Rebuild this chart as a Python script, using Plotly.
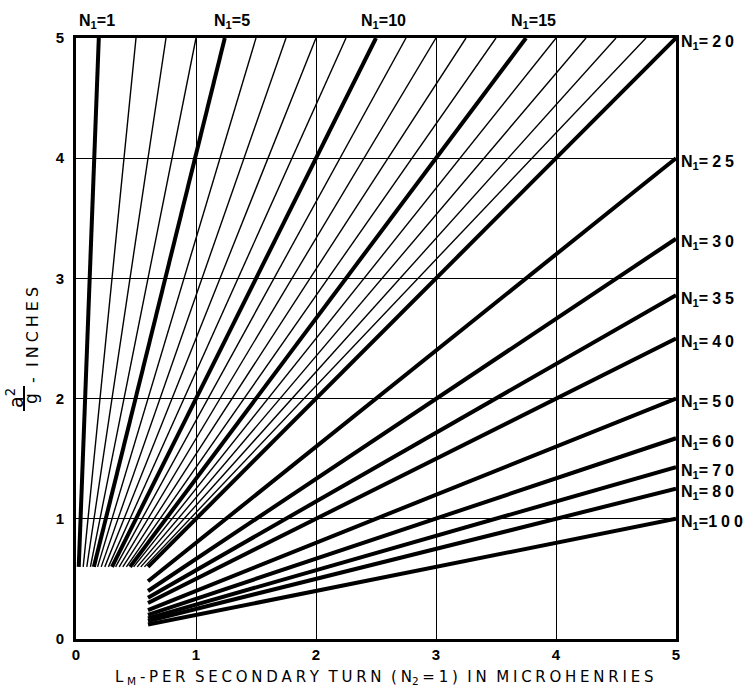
import plotly.graph_objects as go

# ---- data ----
# steep family: N1 = 1..20, x where each line meets the top edge (y = 5)
steep_n1 = list(range(1, 21))
steep_top_x = [0.19, 0.50, 0.75, 1.00, 1.24, 1.50, 1.75, 2.00, 2.25, 2.50,
               2.75, 3.00, 3.25, 3.50, 3.75, 4.00, 4.25, 4.50, 4.75, 5.00]
# shallow family: y where each line meets the right edge (x = 5)
shallow_n1 = [25, 30, 35, 40, 50, 60, 70, 80, 100]
shallow_right_y = [4.00, 3.33, 2.86, 2.50, 2.00, 1.67, 1.43, 1.25, 1.00]

top_labels = [1, 5, 10, 15]
right_labels = ["2\u20050", "2\u20055", "3\u20050", "3\u20055", "4\u20050",
                "5\u20050", "6\u20050", "7\u20050", "8\u20050", "1\u20050\u20050"]
tick_vals = [0, 1, 2, 3, 4, 5]
tick_text = ["0", "1", "2", "3", "4", "5"]

CUT = 0.6  # blank corner box where the lines stop

W, H = 743, 696
L, R, T, B = 76, 67, 38, 57
PW, PH = W - L - R, H - T - B


def px(xp, yp):
    return (xp - L) / PW, (H - B - yp) / PH


fig = go.Figure()

thick_set = {1, 5, 10, 15, 20}
for n, xt in zip(steep_n1, steep_top_x):
    x0 = CUT * xt / 5.0
    fig.add_trace(go.Scatter(
        x=[x0, xt], y=[CUT, 5], mode="lines",
        line=dict(color="black", width=4 if n in thick_set else 1.4),
        hoverinfo="skip", showlegend=False))

for n, yr in zip(shallow_n1, shallow_right_y):
    y0 = CUT * yr / 5.0
    fig.add_trace(go.Scatter(
        x=[CUT, 5], y=[y0, yr], mode="lines",
        line=dict(color="black", width=4),
        hoverinfo="skip", showlegend=False))

lab_font = dict(family="Liberation Sans", size=16, color="black", weight="bold")
ann = []
for n in top_labels:
    xt = steep_top_x[steep_n1.index(n)]
    ann.append(dict(x=xt, y=5, xref="x", yref="y", text=f"N<sub>1</sub>={n}",
                    showarrow=False, xanchor="center", yanchor="bottom",
                    xshift=7 if n > 1 else -2, yshift=5, font=lab_font))

right_y = [5.0] + shallow_right_y
for i, (txt, yv) in enumerate(zip(right_labels, right_y)):
    sep = "=" if i == len(right_labels) - 1 else "=\u2005"
    ann.append(dict(x=5, y=yv, xref="x", yref="y", text=f"N<sub>1</sub>{sep}{txt}",
                    showarrow=False, xanchor="left", yanchor="middle",
                    xshift=3, yshift=-4, font=lab_font))

sp = "\u00a0"
ls = "\u2005"


def spaced(word):
    return ls.join(word)


title_font = dict(family="DejaVu Sans", size=15, color="black")
xt_text = (f"L{ls}<sub>M</sub>{ls}-{ls}{spaced('PER')}{sp*2}{spaced('SECONDARY')}{sp*2}"
           f"{spaced('TURN')}{sp*2}({ls}N<sub>2</sub>{ls}={ls}1{ls})"
           f"{sp*2}{spaced('IN')}{sp*2}{spaced('MICROHENRIES')}")
cx, cy = px(384, 677)
ann.append(dict(x=cx, y=cy, xref="paper", yref="paper", text=xt_text,
                showarrow=False, xanchor="center", yanchor="middle", font=title_font))

# y-axis title: fraction a^2 / g  -  INCHES (rotated)
frac_font = dict(family="DejaVu Sans", size=19, color="black")
ax_, ay_ = px(15, 398)
ann.append(dict(x=ax_, y=ay_, xref="paper", yref="paper", text="a<sup>2</sup>",
                textangle=-90, showarrow=False, xanchor="center", yanchor="middle",
                font=frac_font))
gx, gy = px(31, 399)
ann.append(dict(x=gx, y=gy, xref="paper", yref="paper", text="g",
                textangle=-90, showarrow=False, xanchor="center", yanchor="middle",
                font=dict(family="DejaVu Sans", size=17, color="black")))
ix, iy = px(32, 335)
ann.append(dict(x=ix, y=iy, xref="paper", yref="paper",
                text=f"-{sp*2}{spaced('INCHES')}",
                textangle=-90, showarrow=False, xanchor="center", yanchor="middle",
                font=dict(family="DejaVu Sans", size=16, color="black")))

bx0, by0 = px(24, 411)
bx1, by1 = px(24, 386)
shapes = [dict(type="line", xref="paper", yref="paper", x0=bx0, y0=by0, x1=bx1, y1=by1,
               line=dict(color="black", width=2))]

tick_font = dict(family="Liberation Sans", size=15, color="black", weight="bold")
axis_common = dict(range=[0, 5], tickvals=tick_vals, ticktext=tick_text,
                   showgrid=True, gridcolor="black", gridwidth=1,
                   showline=True, linecolor="black", linewidth=3, mirror=True,
                   zeroline=False, ticks="", tickfont=tick_font, fixedrange=True,
                   automargin=False)

fig.update_layout(
    width=W, height=H,
    margin=dict(l=L, r=R, t=T, b=B, pad=0),
    paper_bgcolor="white", plot_bgcolor="white",
    xaxis=dict(**axis_common, ticklabelstandoff=0),
    yaxis=dict(**axis_common, ticklabelstandoff=6),
    annotations=ann, shapes=shapes,
)

fig.write_html("out.html", config={"displayModeBar": False},
               post_script="document.body.style.margin='0';"
                           "document.body.style.overflow='hidden';")
